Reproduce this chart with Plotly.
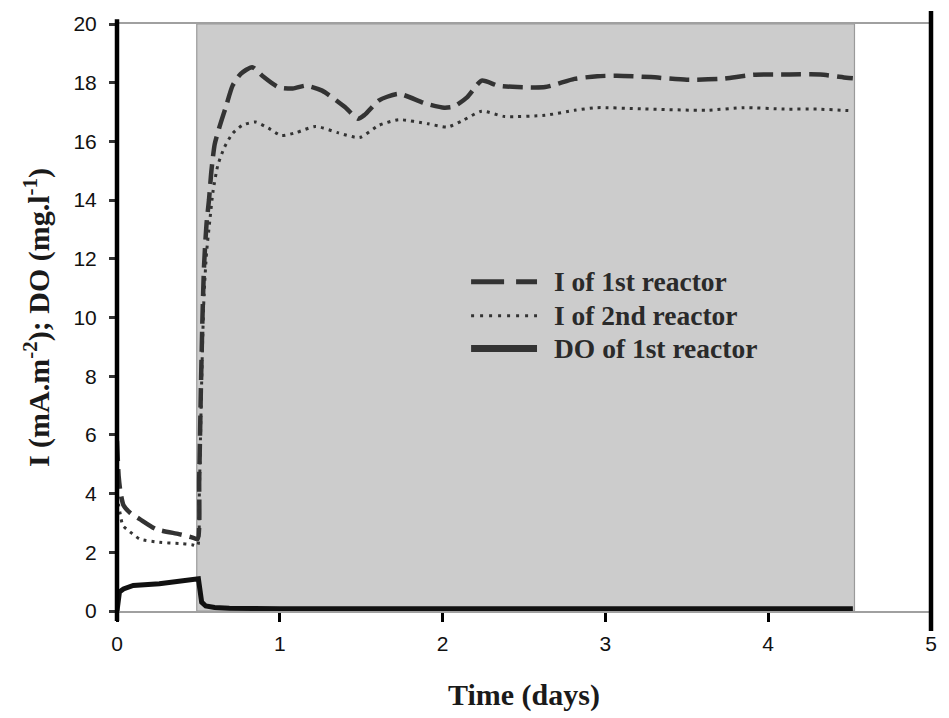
import plotly.graph_objects as go

# ---- data ----
t_i1 = [0.0, 0.01, 0.02, 0.04, 0.08, 0.14, 0.24, 0.38, 0.46, 0.495,
        0.505, 0.515, 0.525, 0.535, 0.55, 0.565, 0.58, 0.60, 0.63, 0.67,
        0.71, 0.76, 0.83, 0.9, 0.99, 1.08, 1.16, 1.26, 1.40, 1.48,
        1.52, 1.61, 1.73, 1.89, 2.01, 2.07, 2.15, 2.24, 2.34, 2.46,
        2.63, 2.81, 2.95, 3.07, 3.28, 3.50, 3.71, 3.91, 4.13, 4.32,
        4.48, 4.52]
i1 = [5.8, 4.6, 4.1, 3.6, 3.35, 3.13, 2.79, 2.62, 2.51, 2.45,
      4.5, 7.5, 10.0, 11.8, 13.2, 14.0, 15.0, 15.9, 16.5, 17.2,
      17.9, 18.3, 18.53, 18.2, 17.85, 17.8, 17.9, 17.73, 17.17, 16.77,
      16.9, 17.4, 17.62, 17.3, 17.15, 17.19, 17.5, 18.07, 17.9, 17.85,
      17.85, 18.13, 18.22, 18.24, 18.19, 18.1, 18.13, 18.27, 18.28, 18.28,
      18.17, 18.15]

t_i2 = [0.0, 0.01, 0.02, 0.036, 0.08, 0.14, 0.26, 0.38, 0.46, 0.495,
        0.505, 0.515, 0.525, 0.535, 0.55, 0.57, 0.59, 0.62, 0.66, 0.71,
        0.77, 0.85, 0.93, 1.01, 1.1, 1.22, 1.36, 1.49, 1.61, 1.73,
        1.91, 2.03, 2.12, 2.24, 2.38, 2.63, 2.81, 2.95, 3.22, 3.62,
        3.85, 4.1, 4.3, 4.46, 4.5]
i2 = [4.2, 3.6, 3.3, 2.91, 2.7, 2.45, 2.34, 2.3, 2.26, 2.22,
      3.8, 6.5, 9.0, 10.8, 12.2, 13.3, 14.3, 15.2, 15.8, 16.27,
      16.55, 16.66, 16.45, 16.2, 16.3, 16.51, 16.29, 16.13, 16.55, 16.74,
      16.6, 16.49, 16.7, 17.03, 16.85, 16.89, 17.06, 17.15, 17.11, 17.06,
      17.15, 17.1, 17.1, 17.06, 17.05]

t_do = [0.0, 0.005, 0.015, 0.04, 0.1, 0.26, 0.42, 0.48, 0.5, 0.505,
        0.52, 0.545, 0.6, 0.69, 0.8, 1.0, 2.0, 3.0, 4.0, 4.52]
do1 = [0.0, 0.4, 0.65, 0.75, 0.87, 0.93, 1.04, 1.08, 1.1, 0.9,
       0.3, 0.17, 0.12, 0.09, 0.08, 0.08, 0.08, 0.08, 0.08, 0.08]

series_names = ["I of 1st reactor", "I of 2nd reactor", "DO of 1st reactor"]
x_ticks = [0, 1, 2, 3, 4, 5]
y_ticks = [0, 2, 4, 6, 8, 10, 12, 14, 16, 18, 20]
aerobic_window = [0.49, 4.53]

LINE = "#333333"
SERIF = "Liberation Serif, Times New Roman, serif"
SANS = "Liberation Sans, Arial, sans-serif"

fig = go.Figure()

fig.add_trace(go.Scatter(x=t_i1, y=i1, mode="lines", name=series_names[0],
                         line=dict(color=LINE, width=4.5, dash="20px,8px",
                                   shape="spline", smoothing=0.6)))
fig.add_trace(go.Scatter(x=t_i2, y=i2, mode="lines", name=series_names[1],
                         line=dict(color=LINE, width=3, dash="3px,5px",
                                   shape="spline", smoothing=0.6)))
fig.add_trace(go.Scatter(x=t_do, y=do1, mode="lines", name=series_names[2],
                         line=dict(color="#111111", width=5)))

shapes = [
    # grey shaded period
    dict(type="rect", xref="x", yref="y", x0=aerobic_window[0], x1=aerobic_window[1],
         y0=0, y1=20, fillcolor="#cccccc", line=dict(color="#9a9a9a", width=1.2),
         layer="below"),
    # thick left and right vertical lines (paper refs so they are not clipped)
    dict(type="line", xref="paper", yref="paper", x0=0, x1=0, y0=-0.017, y1=1.008,
         line=dict(color="#000000", width=4.5), layer="above"),
    dict(type="line", xref="paper", yref="paper", x0=1, x1=1, y0=-0.034, y1=1.022,
         line=dict(color="#000000", width=4.5), layer="above"),
]

# manual legend
leg_x0, leg_x1, leg_tx = 2.175, 2.58, 2.672
leg_y = [11.22, 10.06, 8.94]
leg_styles = [dict(color=LINE, width=5, dash="33px,12px"),
              dict(color=LINE, width=3, dash="3px,6px"),
              dict(color=LINE, width=7)]
annotations = []
for name, yy, st in zip(series_names, leg_y, leg_styles):
    shapes.append(dict(type="line", xref="x", yref="y", x0=leg_x0, x1=leg_x1,
                       y0=yy, y1=yy, line=st, layer="above"))
    annotations.append(dict(x=leg_tx, y=yy, xref="x", yref="y", text="<b>%s</b>" % name,
                            showarrow=False, xanchor="left", yanchor="middle",
                            font=dict(family=SERIF, size=27.5, color="#2a2a2a")))

fig.update_layout(
    width=949, height=718,
    margin=dict(l=117, r=16, t=23, b=106),
    plot_bgcolor="white", paper_bgcolor="white",
    showlegend=False,
    shapes=shapes,
    annotations=annotations,
    xaxis=dict(range=[0, 5], tickvals=x_ticks, ticktext=[str(v) for v in x_ticks],
               showgrid=False, zeroline=False,
               showline=True, linecolor="#a0a0a0", linewidth=1.5, mirror=True,
               ticks="outside", ticklen=9, tickwidth=3, tickcolor="#000000",
               ticklabelstandoff=4,
               tickfont=dict(family=SANS, size=21, color="#111111"),
               title=dict(text="<b>Time (days)</b>", standoff=30,
                          font=dict(family=SERIF, size=30, color="#1a1a1a"))),
    yaxis=dict(range=[0, 20], tickvals=y_ticks, ticktext=[str(v) for v in y_ticks],
               showgrid=False, zeroline=False, showline=False,
               ticks="outside", ticklen=7, tickwidth=3, tickcolor="#333333",
               ticklabelstandoff=8,
               tickfont=dict(family=SANS, size=21, color="#111111"),
               title=dict(text="<b>I (mA.m<sup>-2</sup>); DO (mg.l<sup>-1</sup>)</b>",
                          standoff=14,
                          font=dict(family=SERIF, size=30, color="#1a1a1a"))),
)

fig.write_html("out.html")
